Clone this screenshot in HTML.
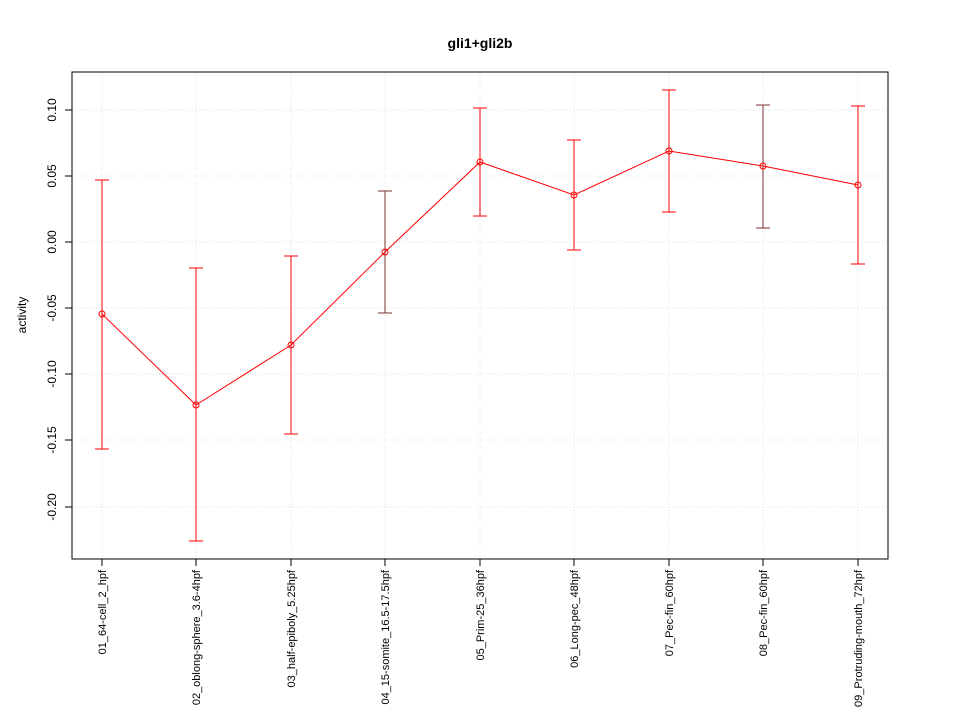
<!DOCTYPE html>
<html><head><meta charset="utf-8"><style>body{margin:0;background:#fff}svg{display:block}</style></head><body>
<svg width="960" height="720" xmlns="http://www.w3.org/2000/svg" font-family="Liberation Sans, sans-serif">
<rect width="960" height="720" fill="#fff"/>
<text x="480" y="48" font-size="14" font-weight="bold" text-anchor="middle">gli1+gli2b</text>
<g stroke="#e0e0e0" stroke-dasharray="1,2" stroke-width="1">
<line x1="72" x2="888" y1="110" y2="110"/><line x1="72" x2="888" y1="176" y2="176"/><line x1="72" x2="888" y1="242" y2="242"/><line x1="72" x2="888" y1="308" y2="308"/><line x1="72" x2="888" y1="374" y2="374"/><line x1="72" x2="888" y1="440" y2="440"/><line x1="72" x2="888" y1="507" y2="507"/>
<line x1="102" x2="102" y1="72" y2="559"/><line x1="196" x2="196" y1="72" y2="559"/><line x1="291" x2="291" y1="72" y2="559"/><line x1="385" x2="385" y1="72" y2="559"/><line x1="480" x2="480" y1="72" y2="559"/><line x1="574" x2="574" y1="72" y2="559"/><line x1="669" x2="669" y1="72" y2="559"/><line x1="763" x2="763" y1="72" y2="559"/><line x1="858" x2="858" y1="72" y2="559"/>
</g>
<rect x="72" y="72" width="816" height="487" fill="none" stroke="#000"/>
<g stroke="#000">
<line x1="72" x2="65" y1="110" y2="110"/><line x1="72" x2="65" y1="176" y2="176"/><line x1="72" x2="65" y1="242" y2="242"/><line x1="72" x2="65" y1="308" y2="308"/><line x1="72" x2="65" y1="374" y2="374"/><line x1="72" x2="65" y1="440" y2="440"/><line x1="72" x2="65" y1="507" y2="507"/>
<line x1="102" x2="102" y1="559" y2="566"/><line x1="196" x2="196" y1="559" y2="566"/><line x1="291" x2="291" y1="559" y2="566"/><line x1="385" x2="385" y1="559" y2="566"/><line x1="480" x2="480" y1="559" y2="566"/><line x1="574" x2="574" y1="559" y2="566"/><line x1="669" x2="669" y1="559" y2="566"/><line x1="763" x2="763" y1="559" y2="566"/><line x1="858" x2="858" y1="559" y2="566"/>
</g>
<g font-size="12" text-anchor="middle">
<text transform="translate(56,110) rotate(-90)">0.10</text>
<text transform="translate(56,176) rotate(-90)">0.05</text>
<text transform="translate(56,242) rotate(-90)">0.00</text>
<text transform="translate(56,308) rotate(-90)">-0.05</text>
<text transform="translate(56,374) rotate(-90)">-0.10</text>
<text transform="translate(56,440) rotate(-90)">-0.15</text>
<text transform="translate(56,507) rotate(-90)">-0.20</text>
<text transform="translate(26,315) rotate(-90)">activity</text>
</g>
<g font-size="11" text-anchor="end">
<text transform="translate(106,570) rotate(-90)">01_64-cell_2_hpf</text>
<text transform="translate(200,570) rotate(-90)">02_oblong-sphere_3.6-4hpf</text>
<text transform="translate(295,570) rotate(-90)">03_half-epiboly_5.25hpf</text>
<text transform="translate(389,570) rotate(-90)">04_15-somite_16.5-17.5hpf</text>
<text transform="translate(484,570) rotate(-90)">05_Prim-25_36hpf</text>
<text transform="translate(578,570) rotate(-90)">06_Long-pec_48hpf</text>
<text transform="translate(673,570) rotate(-90)">07_Pec-fin_60hpf</text>
<text transform="translate(767,570) rotate(-90)">08_Pec-fin_60hpf</text>
<text transform="translate(862,570) rotate(-90)">09_Protruding-mouth_72hpf</text>
</g>
<g stroke="#ff0000" fill="none" stroke-width="1">
<path d="M102 180V449M95 180H109M95 449H109"/>
<path d="M196 268V541M189 268H203M189 541H203"/>
<path d="M291 256V434M284 256H298M284 434H298"/>
<path d="M385 191V313M378 191H392M378 313H392" stroke="#7a3030"/>
<path d="M480 108V216M473 108H487M473 216H487"/>
<path d="M574 140V250M567 140H581M567 250H581"/>
<path d="M669 90V212M662 90H676M662 212H676"/>
<path d="M763 105V228M756 105H770M756 228H770" stroke="#7a3030"/>
<path d="M858 106V264M851 106H865M851 264H865"/>
<polyline points="102,314 196,405 291,345 385,252 480,162 574,195 669,151 763,166 858,185"/>
<circle cx="102" cy="314" r="3"/><circle cx="196" cy="405" r="3"/><circle cx="291" cy="345" r="3"/><circle cx="385" cy="252" r="3"/><circle cx="480" cy="162" r="3"/><circle cx="574" cy="195" r="3"/><circle cx="669" cy="151" r="3"/><circle cx="763" cy="166" r="3"/><circle cx="858" cy="185" r="3"/>
</g>
</svg>
</body></html>
